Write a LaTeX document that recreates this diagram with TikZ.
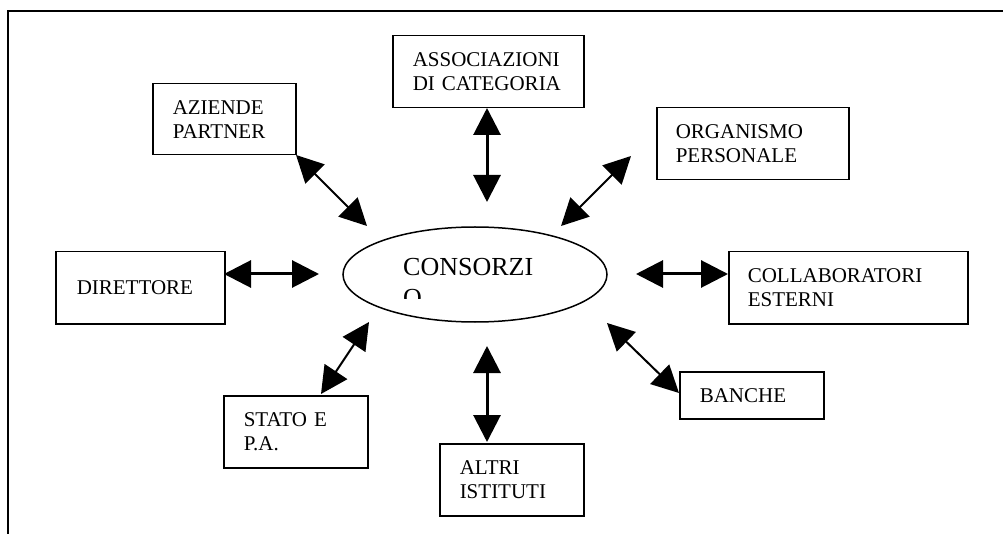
\documentclass[tikz,border=0pt]{standalone}
\usepackage{fontspec}
\setmainfont{Liberation Serif}
\usetikzlibrary{arrows.meta,shapes.geometric}

\tikzset{
  frameline/.style={line width=1.5pt},
  entity/.style={draw, line width=1.5pt, rectangle, anchor=north west,
    inner xsep=20pt, inner ysep=0pt, align=left,
    font=\fontsize{21}{24}\selectfont},
  core/.style={draw, line width=1.5pt, ellipse, inner sep=0pt},
  link/.style={{Triangle[length=27pt,width=27pt]}-{Triangle[length=27pt,width=27pt]}, line width=2pt},
  thicklink/.style={link, line width=3pt}
}

\begin{document}
\begin{tikzpicture}[x=1pt,y=-1pt]
  \useasboundingbox (0,0) rectangle (1003,534);

  % outer frame (top and left sides)
  \draw[frameline] (8,534) -- (8,11) -- (1003,11);

  % central ellipse
  \node[core, minimum width=264pt, minimum height=95pt] (cons) at (475,274.5) {};
  \begin{scope}
    \clip (380,240) rectangle (580,299);
    \node[anchor=base west, inner sep=0pt, font=\fontsize{26}{30}\selectfont] (constxt) at (403,276) {CONSORZI};
    \node[anchor=base west, inner sep=0pt, font=\fontsize{26}{30}\selectfont] (constxtb) at (403,306) {O};
  \end{scope}

  % surrounding boxes
  \node[entity, text width=151pt, minimum height=72pt] (assoc) at (392,35) {ASSOCIAZIONI\\DI CATEGORIA};
  \node[entity, text width=103pt, minimum height=71pt] (aziende) at (152,83) {AZIENDE\\PARTNER};
  \node[entity, inner xsep=19pt, text width=154pt, minimum height=72pt] (organismo) at (656,107) {ORGANISMO\\PERSONALE};
  \node[entity, inner xsep=21pt, text width=127pt, minimum height=72pt] (direttore) at (55,251) {DIRETTORE};
  \node[entity, inner xsep=19pt, text width=201pt, minimum height=72pt] (collab) at (728,251) {COLLABORATORI\\ESTERNI};
  \node[entity, text width=104pt, minimum height=47pt] (banche) at (679,371) {BANCHE};
  \node[entity, text width=104pt, minimum height=72pt] (stato) at (223,395) {STATO E\\P.A.};
  \node[entity, text width=104pt, minimum height=72pt] (altri) at (439,443) {ALTRI\\ISTITUTI};

  % arrow end points
  \coordinate (a1) at (487,108);  \coordinate (a2) at (487,202);
  \coordinate (b1) at (296,155);  \coordinate (b2) at (367,226);
  \coordinate (c1) at (631,156);  \coordinate (c2) at (561,226);
  \coordinate (d1) at (224,274);  \coordinate (d2) at (319,274);
  \coordinate (e1) at (636,274);  \coordinate (e2) at (728,274);
  \coordinate (f1) at (607,323);  \coordinate (f2) at (679,393);
  \coordinate (g1) at (369,322);  \coordinate (g2) at (321,394);
  \coordinate (h1) at (487,346);  \coordinate (h2) at (487,442);

  % two-way links
  \draw[thicklink] (a1) -- (a2);
  \draw[link] (b1) -- (b2);
  \draw[link] (c1) -- (c2);
  \draw[thicklink] (d1) -- (d2);
  \draw[thicklink] (e1) -- (e2);
  \draw[link] (f1) -- (f2);
  \draw[link] (g1) -- (g2);
  \draw[thicklink] (h1) -- (h2);
\end{tikzpicture}
\end{document}
